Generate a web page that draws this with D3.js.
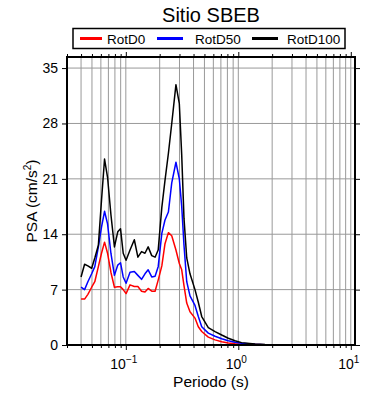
<!DOCTYPE html>
<html><head><meta charset="utf-8">
<script src="https://cdn.jsdelivr.net/npm/d3@7"></script>
<style>
body{margin:0;background:#fff;}
svg{font-family:"Liberation Sans",Arial,sans-serif;}
</style></head>
<body><svg id="c" width="390" height="400"></svg>
<script>
const title = "Sitio SBEB";
const xLabel = "Periodo (s)";
const seriesNames = ["RotD0","RotD50","RotD100"];
const seriesColors = ["#ff0000","#0000ff","#000000"];
const periods = [0.040,0.043,0.046,0.0497,0.053,0.057,0.0608,0.0647,0.0688,0.0737,0.0792,0.0848,0.0897,0.0948,0.1005,0.109,0.119,0.128,0.138,0.148,0.158,0.170,0.182,0.194,0.209,0.223,0.239,0.256,0.279,0.299,0.314,0.329,0.348,0.372,0.412,0.441,0.473,0.541,0.621,0.712,0.815,0.935,1.07,1.41,1.73,2.0,3.0,4.0,5.0,6.0,8.0,10.0];
const rotD0   = [5.8,5.8,6.4,7.3,8.0,9.9,11.6,13.0,11.6,9.2,7.3,7.35,7.35,7.0,6.5,7.6,7.4,7.4,6.8,6.7,7.15,6.8,6.8,8.2,10.0,12.8,14.2,13.8,12.0,10.3,9.5,7.5,5.3,4.2,3.4,2.3,1.7,1.0,0.65,0.42,0.25,0.15,0.1,0.05,0.03,0.02,0.01,0.01,0.005,0.005,0.003,0.002];
const rotD50  = [7.3,7.0,8.0,9.0,9.9,12.4,14.9,16.9,15.3,11.6,8.8,10.1,10.4,8.6,7.8,9.2,9.3,8.8,8.3,9.0,9.5,8.6,8.7,9.9,14.1,15.8,16.8,20.5,23.1,21.0,17.5,12.6,8.0,6.2,5.0,3.6,2.3,1.5,1.1,0.8,0.54,0.34,0.21,0.08,0.04,0.03,0.015,0.01,0.008,0.006,0.004,0.003];
const rotD100 = [8.6,10.2,10.0,9.7,11.0,12.6,18.3,23.5,21.2,16.5,12.4,14.3,14.7,11.6,10.7,12.0,13.3,11.1,11.8,11.6,12.4,11.3,11.1,12.0,17.4,20.8,24.2,28.0,32.9,30.5,24.0,16.0,11.0,9.0,7.0,5.4,3.6,2.2,1.7,1.26,0.85,0.54,0.3,0.13,0.06,0.04,0.02,0.015,0.01,0.008,0.005,0.004];
const yTicks = [0,7,14,21,28,35];
const xMajor = [0.1,1,10];
const xExp = ["\u22121","0","1"];

const svg = d3.select("#c");
const L=67,R=355,T=57,B=345;
const x = d3.scaleLog().domain([0.03,10.9]).range([L,R]);
const y = d3.scaleLinear().domain([0,36.4]).range([B,T]);

// minor/major tick values
const xAll = [];
[0.01,0.1,1,10].forEach(d=>{for(let k=1;k<10;k++){const v=d*k; if(v>=0.03&&v<=10.9) xAll.push(+v.toPrecision(3));}});
const xMinor = xAll.filter(v=>!xMajor.some(m=>Math.abs(m-v)<1e-9));

// grid
const g = svg.append("g");
g.selectAll("line.vg").data(xAll).join("line")
 .attr("x1",d=>x(d)).attr("x2",d=>x(d)).attr("y1",T).attr("y2",B)
 .attr("stroke","#999").attr("stroke-width",1);
g.selectAll("line.hg").data(yTicks.filter(d=>d>0)).join("line")
 .attr("x1",L).attr("x2",R).attr("y1",d=>y(d)).attr("y2",d=>y(d))
 .attr("stroke","#999").attr("stroke-width",1);

// axes ticks
function ax(axisFn, scale, vals, size, tr){
  const a = svg.append("g").attr("transform",tr).call(axisFn(scale).tickValues(vals).tickSize(size).tickFormat(""));
  a.select(".domain").remove();
  a.selectAll("line").attr("stroke","#000").attr("stroke-width",1);
  return a;
}
ax(d3.axisBottom,x,xMinor,3,`translate(0,${B})`);
ax(d3.axisBottom,x,xMajor,5,`translate(0,${B})`);
ax(d3.axisTop,x,xMinor,3,`translate(0,${T})`);
ax(d3.axisTop,x,xMajor,5,`translate(0,${T})`);
ax(d3.axisLeft,y,yTicks,5,`translate(${L},0)`);
ax(d3.axisRight,y,yTicks,5,`translate(${R},0)`);

// lines
const line = d3.line().x((d,i)=>x(periods[i])).y(d=>y(d));
[rotD0,rotD50,rotD100].forEach((s,i)=>{
  svg.append("path").datum(s).attr("d",line).attr("fill","none")
   .attr("stroke",seriesColors[i]).attr("stroke-width",1.5).attr("stroke-linejoin","round");
});

// frame
svg.append("rect").attr("x",L).attr("y",T).attr("width",R-L).attr("height",B-T)
 .attr("fill","none").attr("stroke","#000").attr("stroke-width",2);

// y tick labels
svg.selectAll("text.yt").data(yTicks).join("text")
 .attr("x",L-9).attr("y",d=>y(d)+5).attr("text-anchor","end")
 .attr("font-size",14).text(d=>d);

// x tick labels
xMajor.forEach((v,i)=>{
  const t = svg.append("text").attr("x",x(v)-2).attr("y",369).attr("text-anchor","middle").attr("font-size",14);
  t.append("tspan").text("10");
  t.append("tspan").attr("dy",-6).attr("font-size",10).text(xExp[i]);
});

// axis titles
svg.append("text").attr("x",(L+R)/2).attr("y",387).attr("text-anchor","middle").attr("font-size",15.5).text(xLabel);
const yl = svg.append("text").attr("transform",`translate(37,${(T+B)/2}) rotate(-90)`).attr("text-anchor","middle").attr("font-size",15.5);
yl.append("tspan").text("PSA (cm/s");
yl.append("tspan").attr("dy",-6).attr("font-size",10).text("2");
yl.append("tspan").attr("dy",6).text(")");

// title
svg.append("text").attr("x",(L+R)/2).attr("y",21.5).attr("text-anchor","middle").attr("font-size",20).text(title);

// legend
svg.append("rect").attr("x",73).attr("y",28.5).attr("width",272).attr("height",20)
 .attr("fill","#fff").attr("stroke","#000").attr("stroke-width",1.5);
const legX = [80,157,252];
seriesNames.forEach((n,i)=>{
  svg.append("line").attr("x1",legX[i]).attr("x2",legX[i]+(i===0?22:26)).attr("y1",38.5).attr("y2",38.5)
   .attr("stroke",seriesColors[i]).attr("stroke-width",3);
  svg.append("text").attr("x",[107,195,287][i]).attr("y",43.5).attr("font-size",13.5).text(n);
});
</script></body></html>
